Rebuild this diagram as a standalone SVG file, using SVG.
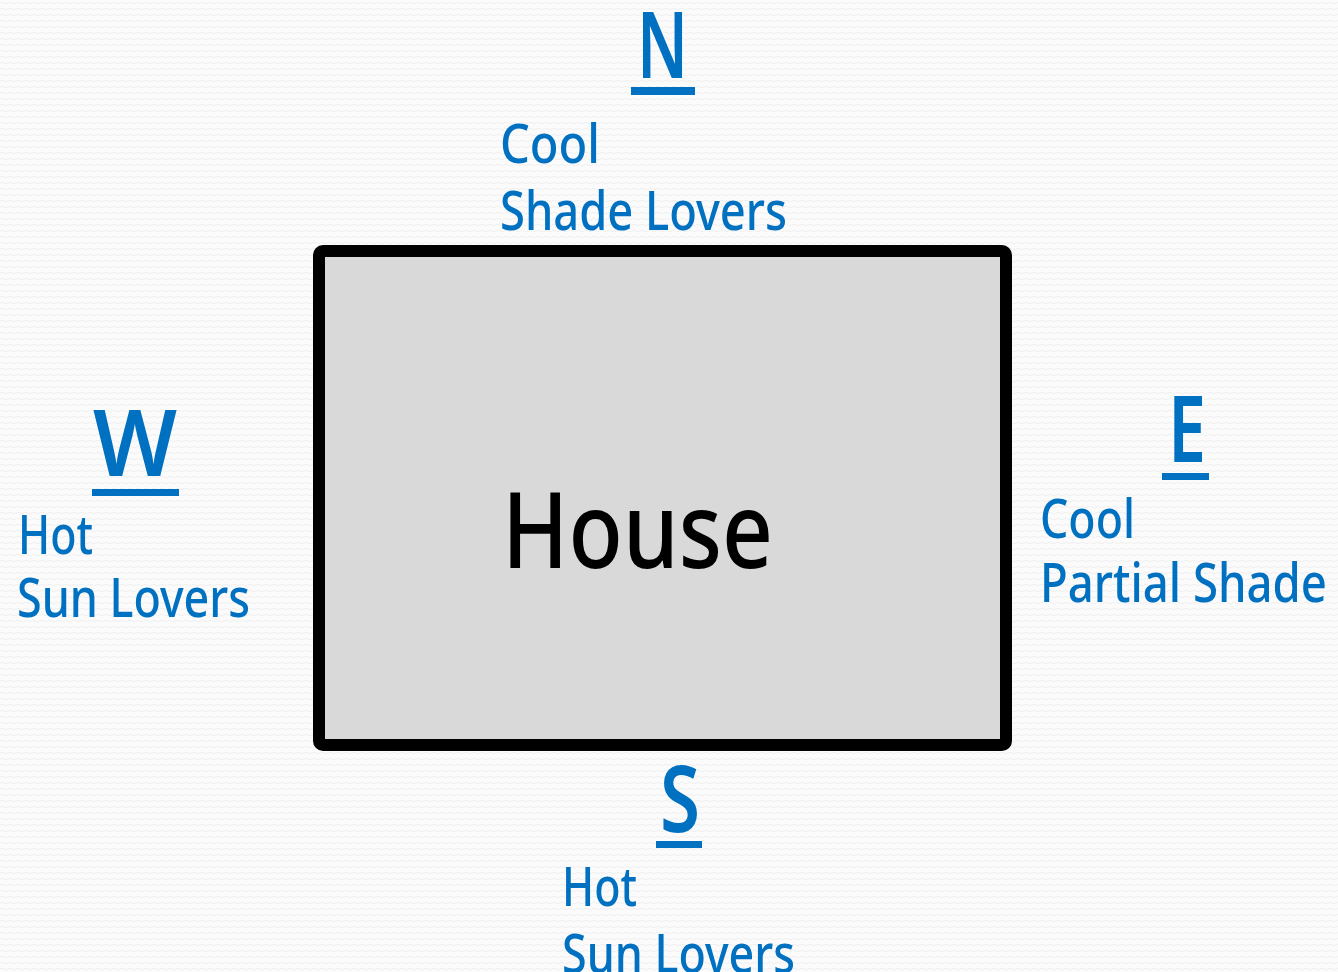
<svg xmlns="http://www.w3.org/2000/svg" width="1338" height="972" viewBox="0 0 1338 972">
  <defs>
    <pattern id="paper" width="8" height="6" patternUnits="userSpaceOnUse">
      <rect width="8" height="6" fill="#fbfbfb"/>
      <path d="M0 3 Q2 1.5 4 3 T8 3" fill="none" stroke="#f0f0f0" stroke-width="1"/>
    </pattern>
  </defs>
  <style>
    .dir { font-family: "Noto Sans", "Liberation Sans", sans-serif; font-size: 92px; font-weight: 600; fill: #0070c0; }
    .note { font-family: "Noto Sans", "Liberation Sans", sans-serif; font-size: 54px; font-weight: 500; fill: #0070c0; }
    .bar { fill: #0070c0; }
    .house { fill: #d9d9d9; stroke: #000000; stroke-width: 12; }
    .label { font-family: "Noto Sans", "Liberation Sans", sans-serif; font-size: 106px; font-weight: 500; fill: #000000; }
  </style>

  <rect width="1338" height="972" fill="url(#paper)"/>

  <!-- the house outline -->
  <g id="house">
    <rect class="house" x="319" y="251" width="687" height="494" rx="4"/>
    <text class="label" x="502" y="568" textLength="271" lengthAdjust="spacingAndGlyphs">House</text>
  </g>

  <!-- north side -->
  <g id="north">
    <text class="dir" x="637" y="78" textLength="51" lengthAdjust="spacingAndGlyphs">N</text>
    <rect class="bar" x="631" y="87" width="64" height="8"/>
    <text class="note" x="500" y="163" textLength="100" lengthAdjust="spacingAndGlyphs">Cool</text>
    <text class="note" x="500" y="230" textLength="287" lengthAdjust="spacingAndGlyphs">Shade Lovers</text>
  </g>

  <!-- west side -->
  <g id="west">
    <text class="dir" x="93" y="476" textLength="84" lengthAdjust="spacingAndGlyphs">W</text>
    <rect class="bar" x="92" y="489" width="87" height="7"/>
    <text class="note" x="18" y="554" textLength="75" lengthAdjust="spacingAndGlyphs">Hot</text>
    <text class="note" x="17" y="617" textLength="233" lengthAdjust="spacingAndGlyphs">Sun Lovers</text>
  </g>

  <!-- east side -->
  <g id="east">
    <text class="dir" x="1168" y="462" textLength="38" lengthAdjust="spacingAndGlyphs">E</text>
    <rect class="bar" x="1162" y="473" width="47" height="7"/>
    <text class="note" x="1040" y="538" textLength="95" lengthAdjust="spacingAndGlyphs">Cool</text>
    <text class="note" x="1040" y="602" textLength="287" lengthAdjust="spacingAndGlyphs">Partial Shade</text>
  </g>

  <!-- south side -->
  <g id="south">
    <text class="dir" x="660" y="832" textLength="40" lengthAdjust="spacingAndGlyphs">S</text>
    <rect class="bar" x="656" y="841" width="46" height="7"/>
    <text class="note" x="562" y="906" textLength="75" lengthAdjust="spacingAndGlyphs">Hot</text>
    <text class="note" x="562" y="973" textLength="233" lengthAdjust="spacingAndGlyphs">Sun Lovers</text>
  </g>

  <g id="connectors"/>
</svg>
